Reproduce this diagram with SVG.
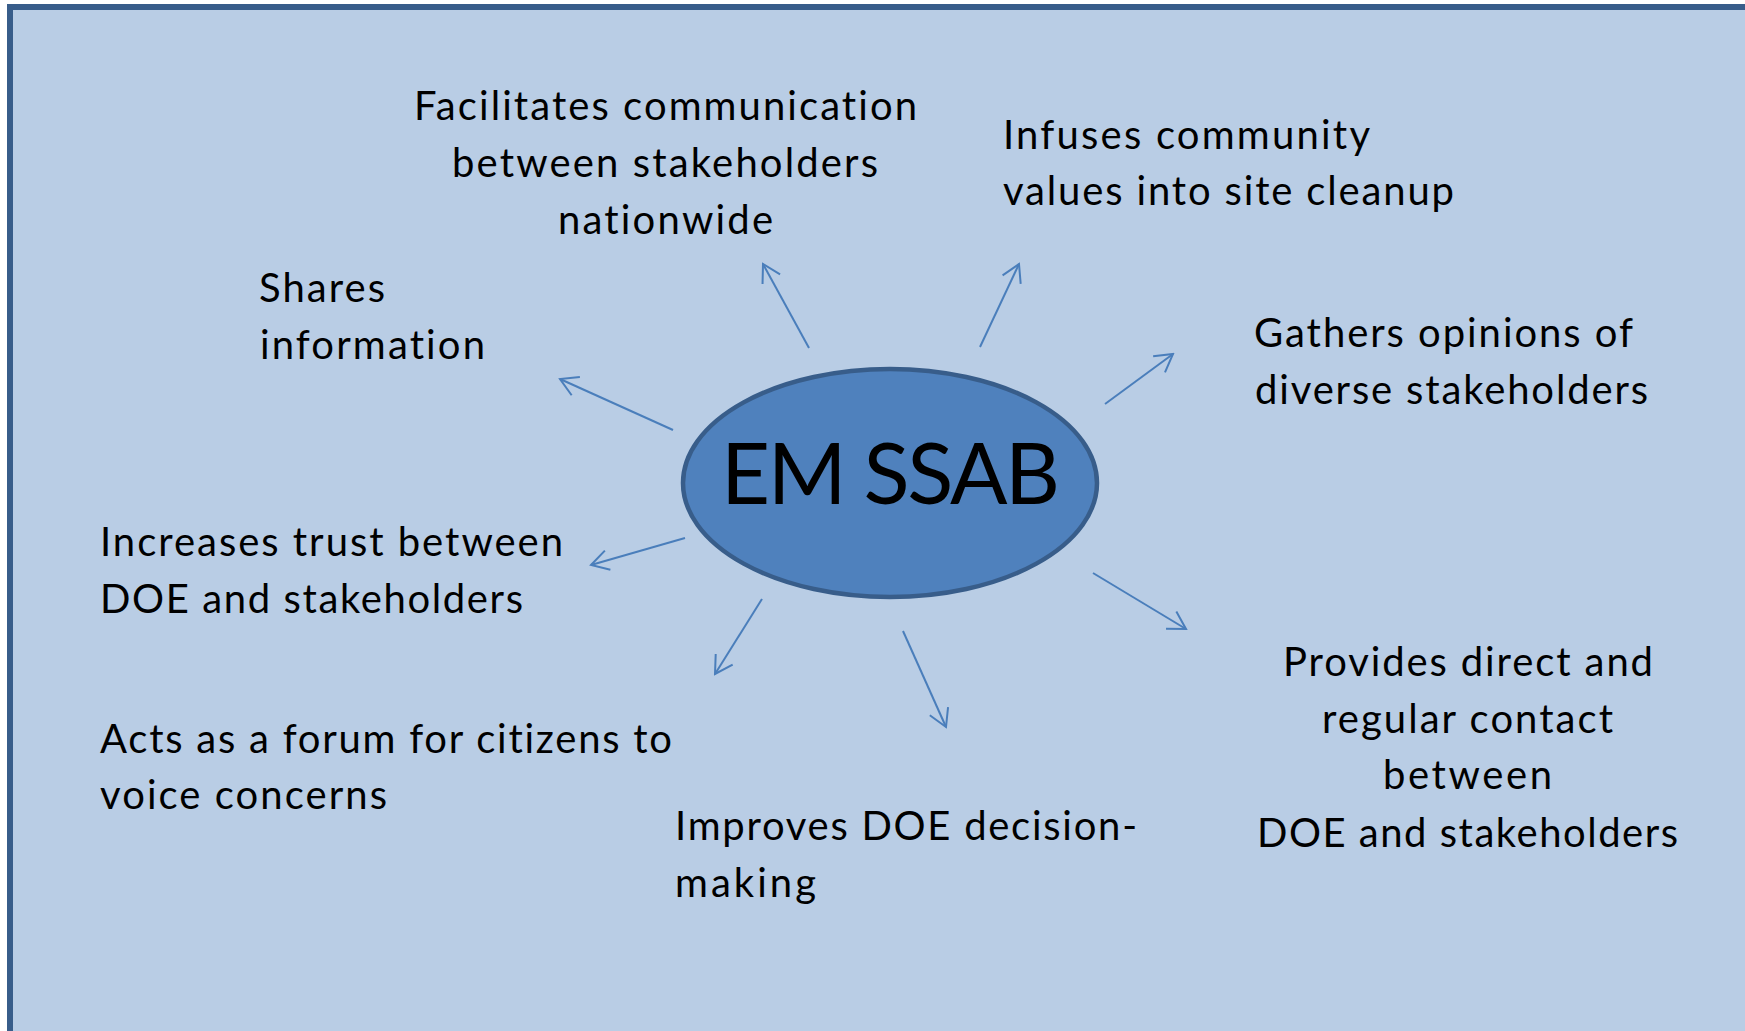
<svg xmlns="http://www.w3.org/2000/svg" width="1745" height="1031" viewBox="0 0 1745 1031">
<style>
.lbl{font-family:Lato,"Open Sans","Liberation Sans",sans-serif;font-size:40px;fill:#000;font-variant-ligatures:none}
.title{font-family:Lato,"Open Sans","Liberation Sans",sans-serif;font-size:85px;fill:#000}
.conn{stroke:#4a7ebb;stroke-width:2;fill:none}
</style>
<defs>
<marker id="arr" viewBox="-20 -12 22 24" markerWidth="22" markerHeight="24" refX="0" refY="0" orient="auto" markerUnits="userSpaceOnUse">
<path d="M-17.3,-10 L0,0 L-17.3,10" fill="none" stroke="#4a7ebb" stroke-width="2"/>
</marker>
</defs>
<rect x="0" y="0" width="1745" height="1031" fill="#ffffff"/>
<rect id="panel" x="10" y="7" width="1745" height="1040" fill="#b9cde5" stroke="#385d8a" stroke-width="6"/>
<g id="connectors">
<line class="conn" x1="673" y1="430" x2="560" y2="379" marker-end="url(#arr)"/>
<line class="conn" x1="809" y1="348" x2="763" y2="264" marker-end="url(#arr)"/>
<line class="conn" x1="980" y1="347" x2="1019" y2="264" marker-end="url(#arr)"/>
<line class="conn" x1="1105" y1="404" x2="1173" y2="354" marker-end="url(#arr)"/>
<line class="conn" x1="1093" y1="573" x2="1186" y2="629" marker-end="url(#arr)"/>
<line class="conn" x1="685" y1="538" x2="591" y2="565" marker-end="url(#arr)"/>
<line class="conn" x1="762" y1="599" x2="715" y2="674" marker-end="url(#arr)"/>
<line class="conn" x1="903" y1="631" x2="946" y2="727" marker-end="url(#arr)"/>
</g>
<g id="center">
<ellipse cx="890" cy="483" rx="207" ry="114" fill="#4f81bd" stroke="#385d8a" stroke-width="4.5"/>
<text class="title" x="721" y="504" textLength="339">EM SSAB</text>
</g>
<g id="facilitates">
<text class="lbl" x="414" y="120" textLength="503">Facilitates communication</text>
<text class="lbl" x="452" y="177" textLength="426">between stakeholders</text>
<text class="lbl" x="558" y="234" textLength="215">nationwide</text>
</g>
<g id="infuses">
<text class="lbl" x="1003" y="149" textLength="367">Infuses community</text>
<text class="lbl" x="1003" y="205" textLength="451">values into site cleanup</text>
</g>
<g id="shares">
<text class="lbl" x="259" y="302" textLength="126">Shares</text>
<text class="lbl" x="260" y="359" textLength="225">information</text>
</g>
<g id="gathers">
<text class="lbl" x="1254" y="347" textLength="379">Gathers opinions of</text>
<text class="lbl" x="1255" y="404" textLength="393">diverse stakeholders</text>
</g>
<g id="increases">
<text class="lbl" x="100" y="556" textLength="463">Increases trust between</text>
<text class="lbl" x="100" y="613" textLength="423">DOE and stakeholders</text>
</g>
<g id="acts">
<text class="lbl" x="100" y="753" textLength="572">Acts as a forum for citizens to</text>
<text class="lbl" x="100" y="809" textLength="287">voice concerns</text>
</g>
<g id="improves">
<text class="lbl" x="675" y="840" textLength="462">Improves DOE decision-</text>
<text class="lbl" x="675" y="897" textLength="141">making</text>
</g>
<g id="provides">
<text class="lbl" x="1283" y="676" textLength="370">Provides direct and</text>
<text class="lbl" x="1322" y="733" textLength="291">regular contact</text>
<text class="lbl" x="1383" y="789" textLength="169">between</text>
<text class="lbl" x="1257" y="847" textLength="421">DOE and stakeholders</text>
</g>
</svg>
